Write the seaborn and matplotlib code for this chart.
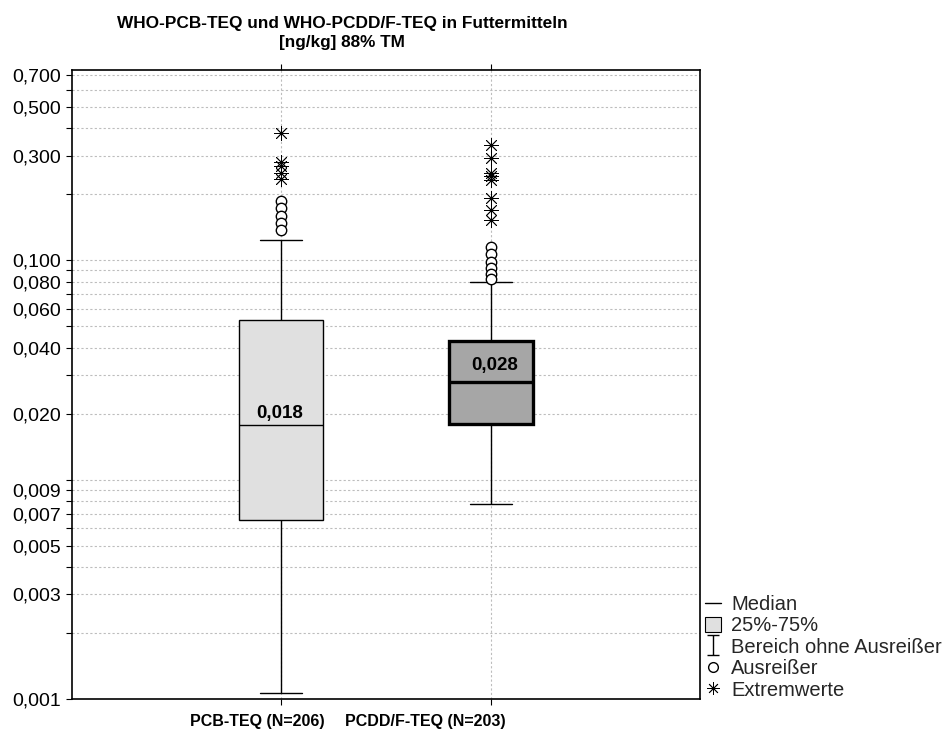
import numpy as np
import pandas as pd
import matplotlib
matplotlib.use("Agg")
import matplotlib.pyplot as plt
import matplotlib.ticker as mticker
from matplotlib.lines import Line2D
from matplotlib.patches import Patch
from matplotlib.path import Path
from matplotlib.transforms import ScaledTranslation
import seaborn as sns

# ---------------- data ----------------
categories = ["PCB-TEQ (N=206)", "PCDD/F-TEQ (N=203)"]
whisker_low = [0.00107, 0.00775]
q1 = [0.00655, 0.0180]
median = [0.0178, 0.0278]
q3 = [0.0535, 0.0430]
whisker_high = [0.124, 0.080]
median_labels = ["0,018", "0,028"]
outliers_pcb = [0.186, 0.173, 0.160, 0.148, 0.138]
outliers_pcdd = [0.115, 0.107, 0.0986, 0.092, 0.0867, 0.0822]
extremes_pcb = [0.380, 0.282, 0.268, 0.250, 0.234]
extremes_pcdd = [0.336, 0.292, 0.250, 0.242, 0.232, 0.192, 0.170, 0.153]
ytick_values = [0.001, 0.003, 0.005, 0.007, 0.009, 0.02, 0.04, 0.06, 0.08,
                0.1, 0.3, 0.5, 0.7]
ytick_labels = [f"{v:.3f}".replace(".", ",") for v in ytick_values]
legend_labels = ["Median", "25%-75%", "Bereich ohne Ausreißer",
                 "Ausreißer", "Extremwerte"]
title = "WHO-PCB-TEQ und WHO-PCDD/F-TEQ in Futtermitteln\n[ng/kg] 88% TM"

# ---------------- style ----------------
sns.set_theme(style="white")
plt.rcParams["font.family"] = ["Liberation Sans", "DejaVu Sans"]

fig = plt.figure(figsize=(9.44, 7.31), dpi=100)
ax = fig.add_axes([72 / 944, 1 - 699 / 731, (700 - 72) / 944, (699 - 70) / 731])

box_df = pd.DataFrame({
    "group": np.repeat(categories, 5),
    "value": np.concatenate([[whisker_low[i], q1[i], median[i], q3[i], whisker_high[i]]
                             for i in range(len(categories))]),
})

sns.boxplot(data=box_df, x="group", y="value", hue="group", order=categories,
            hue_order=categories, palette=["#e0e0e0", "#a6a6a6"], saturation=1,
            whis=(0, 100), width=0.4, linecolor="black", linewidth=1,
            showfliers=False, log_scale=True, legend=False, ax=ax)

# thicker outline/median for the second box
for p in ax.patches:
    verts = p.get_path().vertices
    if verts[:, 0].mean() > 0.5:
        p.set_linewidth(2.4)
for ln in ax.lines:
    x = np.asarray(ln.get_xdata(), dtype=float)
    if len(x) == 2 and abs(abs(x[1] - x[0]) - 0.4) < 1e-6 and x.mean() > 0.5:
        ln.set_linewidth(2.4)

out_df = pd.DataFrame({
    "group": [categories[0]] * len(outliers_pcb) + [categories[1]] * len(outliers_pcdd),
    "value": outliers_pcb + outliers_pcdd,
})
ext_df = pd.DataFrame({
    "group": [categories[0]] * len(extremes_pcb) + [categories[1]] * len(extremes_pcdd),
    "value": extremes_pcb + extremes_pcdd,
})
sns.stripplot(data=out_df, x="group", y="value", order=categories, jitter=False,
              marker="o", size=7.5, color="white", edgecolor="black", linewidth=1,
              ax=ax, zorder=5)
sns.stripplot(data=ext_df, x="group", y="value", order=categories, jitter=False,
              marker=(8, 2, 0), size=10, color="black", linewidth=0.6,
              ax=ax, zorder=5)

# ---------------- axes ----------------
ax.set_xlim(-1, 2)
ax.set_ylim(0.001, 0.738)
grid_vals = [m * 10.0 ** e for e in (-3, -2, -1) for m in range(1, 10)]
ax.yaxis.set_major_locator(mticker.FixedLocator(ytick_values))
ax.yaxis.set_major_formatter(mticker.FixedFormatter(ytick_labels))
ax.yaxis.set_minor_locator(mticker.FixedLocator(
    [v for v in grid_vals if all(abs(v - t) > 1e-9 for t in ytick_values) and v < 0.74]))
ax.yaxis.set_minor_formatter(mticker.NullFormatter())
ax.grid(True, which="both", axis="y", linestyle=(0, (2, 2)), color="#bdbdbd", linewidth=0.8)
ax.grid(True, which="major", axis="x", linestyle=(0, (2, 2)), color="#bdbdbd", linewidth=0.8)
ax.set_axisbelow(True)
ax.tick_params(axis="y", which="both", direction="out", length=4, width=0.8,
               left=True, labelsize=14, pad=4, colors="black")
ax.tick_params(axis="x", which="major", direction="out", length=4, width=0.8,
               bottom=True, top=True, labelsize=11.5, pad=7, colors="black")
ax.set_xticks([0, 1])
ax.set_xticklabels(categories, fontweight="bold")
for lab, dx in zip(ax.get_xticklabels(), [-24, -65]):
    lab.set_transform(lab.get_transform() + ScaledTranslation(dx / 100, 0, fig.dpi_scale_trans))
ax.set_xlabel("")
ax.set_ylabel("")
for s in ax.spines.values():
    s.set_visible(True)
    s.set_color("black")
    s.set_linewidth(1.2)

for i, (m, lab) in enumerate(zip(median, median_labels)):
    ax.annotate(lab, xy=(i, m), xytext=(-1 if i == 0 else 3, 2 if i == 0 else 6),
                textcoords="offset points", ha="center", va="bottom",
                fontweight="bold", fontsize=13.5, color="black")

fig.text(342 / 944, 1 - 16 / 731, title, ha="center", va="top",
         fontweight="bold", fontsize=12.4, linespacing=1.35, color="black")

# ---------------- legend ----------------
cap_path = Path([(-0.6, -1), (0.6, -1), (0, -1), (0, 1), (-0.6, 1), (0.6, 1)],
                [Path.MOVETO, Path.LINETO, Path.MOVETO, Path.LINETO, Path.MOVETO, Path.LINETO])
handles = [
    Line2D([], [], color="black", lw=1),
    Patch(facecolor="#e0e0e0", edgecolor="black", linewidth=0.8),
    Line2D([], [], marker=cap_path, markersize=14, linestyle="None", color="black",
           markerfacecolor="none", markeredgewidth=1),
    Line2D([], [], marker="o", markersize=7, linestyle="None", markerfacecolor="white",
           markeredgecolor="black", markeredgewidth=1),
    Line2D([], [], marker=(8, 2, 0), markersize=9, linestyle="None", color="black",
           markeredgewidth=0.6),
]
fig.legend(handles, legend_labels, loc="lower left", bbox_to_anchor=(705 / 944, 0.043),
           frameon=False, fontsize=14.5, handlelength=0.8, handleheight=0.8,
           handletextpad=0.5, labelspacing=0.12, borderpad=0, borderaxespad=0)

fig.savefig("out.png", dpi=100)
